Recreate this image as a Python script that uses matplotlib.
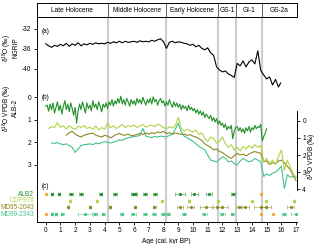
import numpy as np
import matplotlib.pyplot as plt
import matplotlib.transforms as mtransforms

plt.rcParams['font.family'] = ['Liberation Sans', 'DejaVu Sans']
plt.rcParams['axes.unicode_minus'] = False
plt.rcParams['mathtext.fontset'] = 'custom'
plt.rcParams['mathtext.rm'] = 'Liberation Sans'
plt.rcParams['font.size'] = 4.7

# ---- data ----
periods = ['Late Holocene', 'Middle Holocene', 'Early Holocene', 'GS-1', 'GI-1', 'GS-2a']
bounds = [4.2, 8.2, 11.7, 12.9, 14.7]

ngrip_age = np.round(np.arange(0, 15.81, 0.2), 1).tolist() + [15.95]
ngrip = [-35.0, -35.4, -35.7, -35.3, -35.5, -35.1, -35.4, -34.9, -35.5, -35.0,
         -35.3, -34.8, -35.4, -35.0, -35.2, -34.9, -35.1, -34.8, -35.0, -34.9,
         -35.0, -34.7, -34.9, -34.6, -34.8, -34.5, -34.8, -34.5, -34.7, -34.6,
         -34.5, -34.7, -34.4, -34.6, -34.5, -34.6, -34.3, -34.5, -34.2, -34.0,
         -34.6, -35.9, -34.7, -34.5, -34.8, -34.6, -34.7, -34.9, -35.0, -35.3,
         -35.1, -35.6, -35.3, -35.9, -36.2, -35.8, -36.8, -37.3, -39.6, -40.2,
         -40.6, -40.4, -41.0, -41.3, -41.7, -38.9, -39.4, -38.4, -39.6, -38.6,
         -38.2, -39.0, -36.4, -40.3, -41.2, -42.0, -41.6, -43.2, -42.1, -43.6,
         -42.8]

alb2_age = np.round(np.arange(0, 15.01, 0.1), 1)
alb2 = [0.40, 0.35, 0.62, 0.30, 0.55, 0.25, 0.70, 0.45, 0.20, 0.60,
        0.35, 0.75, 0.40, 0.15, 0.55, 0.30, 0.65, 0.25, 0.50, 0.80,
        0.45, 1.15, 0.60, 0.30, 0.55, 0.20, 0.45, 0.70, 0.25, 0.50,
        0.35, 0.60, 0.15, 0.45, 0.30, 0.55, 0.20, 0.40, 0.65, 0.30,
        0.45, 0.25, 0.50, 0.20, 0.35, 0.10, 0.40, 0.15, 0.30, 0.05,
        0.25, -0.05, 0.30, 0.10, 0.35, 0.05, 0.20, 0.40, 0.10, 0.30,
        0.15, 0.35, 0.05, 0.25, 0.10, 0.30, 0.00, 0.20, 0.35, 0.10,
        0.25, 0.05, 0.30, -0.02, 0.20, 0.10, 0.35, 0.15, 0.05, 0.25,
        0.15, 0.40, 0.20, 0.35, 0.10, 0.30, 0.45, 0.20, 0.40, 0.25,
        0.45, 0.30, 0.55, 0.35, 0.50, 0.40, 0.60, 0.35, 0.55, 0.45,
        0.60, 0.50, 0.70, 0.55, 0.75, 0.60, 0.80, 0.65, 0.90, 0.75,
        0.85, 0.95, 0.80, 1.05, 0.90, 1.10, 0.95, 1.20, 1.05, 1.25,
        1.15, 1.35, 1.20, 1.45, 1.30, 1.40, 1.25, 1.85, 1.50, 1.35,
        1.30, 1.50, 1.35, 1.55, 1.40, 1.60, 1.35, 1.50, 1.30, 1.55,
        1.35, 1.45, 1.25, 1.40, 1.30, 1.35, 1.20, 1.95, 1.75, 1.60,
        1.40]

odp_age = np.round(np.arange(0.2, 17.01, 0.2), 1)
odp976 = [0.45, 0.35, 0.40, 0.12, 0.38, 0.30, 0.48, 0.30, 0.42, 0.50,
          0.32, 0.40, 0.28, 0.45, 0.38, 0.50, 0.30, 0.55, 0.40, 0.50,
          0.15, 0.42, 0.30, 0.45, 0.35, 0.22, 0.40, 0.28, 0.35, 0.25,
          0.40, 0.30, 0.22, 0.38, 0.30, 0.25, 0.35, 0.20, 0.28, 0.40,
          0.48, 0.35, 0.42, 0.30, -0.20, 0.45, 0.62, 0.50, 0.58, 0.65,
          0.55, 0.80, 0.70, 1.05, 1.20, 0.95, 1.05, 1.30, 1.20, 0.95,
          1.35, 1.55, 1.40, 1.70, 1.55, 1.75, 1.50, 1.65, 1.45, 1.60,
          1.40, 1.55, 1.45, 2.40, 2.20, 2.50, 2.30, 2.55, 2.10, 1.70,
          2.90, 2.30, 2.70, 3.10, 3.30]

md95_age = np.round(np.arange(1.4, 17.01, 0.2), 1)
md95 = [0.85, 0.70, 0.62, 0.78, 0.88, 0.95, 0.85, 0.80, 0.75, 0.72,
        0.85, 0.90, 0.95, 0.85, 0.90, 1.00, 0.90, 0.80, 0.75, 0.82,
        0.85, 0.78, 0.88, 0.85, 0.80, 0.75, 0.80, 0.72, 0.78, 0.70,
        0.75, 0.65, 0.70, 0.62, 0.75, 0.70, 0.78, 0.72, 0.75, 0.80,
        0.78, 0.85, 0.82, 0.90, 0.95, 1.05, 1.15, 1.35, 1.45, 1.55,
        1.70, 1.65, 1.80, 1.85, 2.00, 2.10, 2.20, 2.05, 1.90, 2.00,
        1.95, 2.05, 1.95, 1.85, 1.80, 1.85, 1.90, 2.40, 2.35, 2.55,
        2.45, 2.50, 2.35, 2.30, 2.45, 2.65, 2.85, 3.20, 3.50]

md99_age = np.round(np.arange(0.4, 17.01, 0.2), 1)
md99 = [1.30, 1.32, 1.28, 1.35, 1.40, 1.35, 1.45, 1.55, 1.85, 1.65,
        1.45, 1.40, 1.38, 1.35, 1.40, 1.30, 1.35, 1.28, 1.22, 1.25,
        1.30, 1.25, 1.20, 1.12, 1.15, 1.05, 1.00, 0.95, 0.93, 0.90,
        0.85, 0.45, 0.90, 0.95, 0.98, 0.92, 0.95, 0.90, 0.92, 0.95,
        0.85, 0.80, 0.50, 0.15, 0.65, 0.90, 1.00, 1.10, 1.20, 1.35,
        1.50, 1.60, 1.70, 2.00, 2.30, 2.35, 2.40, 2.25, 2.10, 2.20,
        2.40, 2.35, 2.50, 2.58, 2.35, 2.20, 2.30, 2.40, 2.35, 2.20,
        2.30, 2.40, 3.25, 3.10, 3.20, 3.05, 3.00, 2.85, 2.65, 3.95,
        3.15, 3.30, 3.25, 3.30]

# age-model points for panel (c)
records = ['ALB2', 'ODP976', 'MD95-2043', 'MD99-2343']
pts_age = [
    [0.45, 0.9, 1.7, 2.38, 3.73, 4.7, 5.95, 6.06, 6.74, 7.42, 9.12, 10.09, 11.1, 12.7],
    [1.65, 3.46, 7.88, 9.73, 11.72, 14.03, 14.93, 16.88],
    [1.54, 3.0, 4.37, 6.06, 7.38, 9.12, 9.84, 10.88, 11.65, 12.0, 13.12, 13.53, 14.6, 14.96, 16.63],
    [0.45, 0.7, 1.13, 2.67, 3.35, 3.91, 5.16, 5.95, 6.74, 7.35, 7.98, 8.32, 9.39, 10.77, 12.0, 12.67, 16.18, 17.0],
]
pts_err = [
    [0.08, 0.08, 0.15, 0.15, 0.12, 0.12, 0.15, 0.15, 0.15, 0.15, 0.35, 0.25, 0.2, 0.15],
    [0.05, 0.05, 0.05, 0.05, 0.05, 0.05, 0.05, 0.05],
    [0.05, 0.05, 0.05, 0.08, 0.1, 0.2, 0.25, 0.4, 0.3, 0.35, 0.2, 0.3, 0.45, 0.35, 0.25],
    [0.08, 0.08, 0.1, 0.45, 0.15, 0.12, 0.1, 0.15, 0.15, 0.12, 0.12, 0.15, 0.12, 0.15, 0.15, 0.12, 0.15, 0.35],
]
tie_age = [[0.0, 14.62], [], [], [0.0, 14.62, 15.41]]

colors = ['#22902a', '#aed445', '#8c8a24', '#45c288']
orange = '#f0a232'

# ---- layout (pixel positions of the reference, 320x244) ----
W, H = 320, 244
X0, X1 = 36.7, 296.7
TOP, BAND, BOT = 3.3, 16.7, 221.7
XMIN, XMAX = -0.61, 17.04


def box(top, bottom):
    return [X0 / W, 1 - bottom / H, (X1 - X0) / W, (bottom - top) / H]


fig = plt.figure(figsize=(W / 100, H / 100), dpi=100)

ax = fig.add_axes(box(TOP, BOT))
ax.set_xlim(XMIN, XMAX)
ax.set_ylim(BOT, TOP)
ax.spines['right'].set_visible(False)
for s in ax.spines.values():
    s.set_linewidth(0.7)
ax.set_yticks([])
ax.set_xticks(range(0, 18))
ax.tick_params(axis='x', length=2.5, width=0.6, pad=1.5, labelsize=4.7)
ax.set_xlabel('Age (cal. kyr BP)', fontsize=4.7, labelpad=2.5)

blend = mtransforms.blended_transform_factory(ax.transAxes, ax.transData)
ax.axhline(BAND, color='k', lw=0.7)
ax.plot([1, 1], [TOP, BAND], color='k', lw=0.7, transform=blend, clip_on=False)
ax.vlines(bounds, BAND, BOT, color='#cfcfcf', lw=1.6, zorder=0)
ax.vlines(bounds, TOP, BAND, color='#444444', lw=0.6)
edges = [XMIN] + bounds + [XMAX]
for i, name in enumerate(periods):
    ax.text((edges[i] + edges[i + 1]) / 2, (TOP + BAND) / 2, name,
            ha='center', va='center', fontsize=4.7)

# panel (c)
row_y = [194, 200.7, 207.3, 214]
for i, name in enumerate(records):
    y = [row_y[i]] * len(pts_age[i])
    ax.errorbar(pts_age[i], y, xerr=pts_err[i], fmt='none', ecolor=colors[i],
                elinewidth=0.5, capsize=1.2, capthick=0.5, alpha=0.7)
    ax.plot(pts_age[i], y, 'o', ms=2.3, color=colors[i], mew=0)
    if tie_age[i]:
        ax.plot(tie_age[i], [row_y[i]] * len(tie_age[i]), 'o', ms=2.3, color=orange, mew=0)
    ax.text(-0.01, row_y[i], name, color=colors[i], transform=blend,
            ha='right', va='center', fontsize=4.7)
ax.text(-0.25, 186, '(c)', fontsize=4.7, va='center')

# panel (a) NGRIP
ax_a = fig.add_axes(box(BAND, 90))
ax_a.patch.set_visible(False)
ax_a.plot(ngrip_age, ngrip, color='k', lw=0.8)
ax_a.set_xlim(XMIN, XMAX)
ax_a.set_ylim(-44.2, -29.6)
ax_a.set_yticks([-32, -36, -40])
ax_a.set_xticks([])
for s in ax_a.spines.values():
    s.set_visible(False)
ax_a.tick_params(axis='y', length=2.5, width=0.6, pad=1.5, labelsize=4.7)
ax_a.text(-0.25, -32.6, '(a)', fontsize=4.7, va='center')

# panel (b) ALB-2 on left axis
ax_b = fig.add_axes(box(90, 188))
ax_b.patch.set_visible(False)
ax_b.set_xlim(XMIN, XMAX)
ax_b.set_ylim((188 - 97.3) / 22.45, (90 - 97.3) / 22.45)
ax_b.set_yticks([0, 1, 2, 3])
ax_b.set_xticks([])
for s in ax_b.spines.values():
    s.set_visible(False)
ax_b.tick_params(axis='y', length=2.5, width=0.6, pad=1.5, labelsize=4.7)

# marine records on right axis
ax_r = fig.add_axes(box(90, 190))
ax_r.patch.set_visible(False)
ax_r.set_xlim(XMIN, XMAX)
ax_r.set_ylim((190 - 120.7) / 17.15, (90 - 120.7) / 17.15)
ax_r.plot(md99_age, md99, color=colors[3], lw=0.8)
ax_r.plot(md95_age, md95, color=colors[2], lw=0.8)
ax_r.plot(odp_age, odp976, color=colors[1], lw=0.8)
ax_b.plot(alb2_age, alb2, color=colors[0], lw=0.8)
ax_r.yaxis.tick_right()
ax_r.set_yticks([0, 1, 2, 3, 4])
ax_r.set_xticks([])
for k in ['left', 'top', 'bottom']:
    ax_r.spines[k].set_visible(False)
ax_r.spines['right'].set_linewidth(0.7)
ax_r.spines['right'].set_bounds(-0.57, (190 - 120.7) / 17.15)
ax_r.tick_params(axis='y', length=2.5, width=0.6, pad=1.5, labelsize=4.7)
ax_b.text(-0.25, 0.0, '(b)', fontsize=4.7, va='center')

# axis titles
fig.text(7 / W, 1 - 48 / H, 'δ$^{18}$O (‰)', rotation=90, ha='center', va='center', fontsize=4.7)
fig.text(15.7 / W, 1 - 48 / H, 'NGRIP', rotation=90, ha='center', va='center', fontsize=4.7)
fig.text(7 / W, 1 - 108 / H, 'δ$^{18}$O VPDB (‰)', rotation=90, ha='center', va='center', fontsize=4.7)
fig.text(15.7 / W, 1 - 108 / H, 'ALB-2', rotation=90, ha='center', va='center', fontsize=4.7)
fig.text(312 / W, 1 - 156 / H, 'δ$^{18}$O VPDB (‰)', rotation=90, ha='center', va='center', fontsize=4.7)

fig.savefig('out.png', dpi=100)
